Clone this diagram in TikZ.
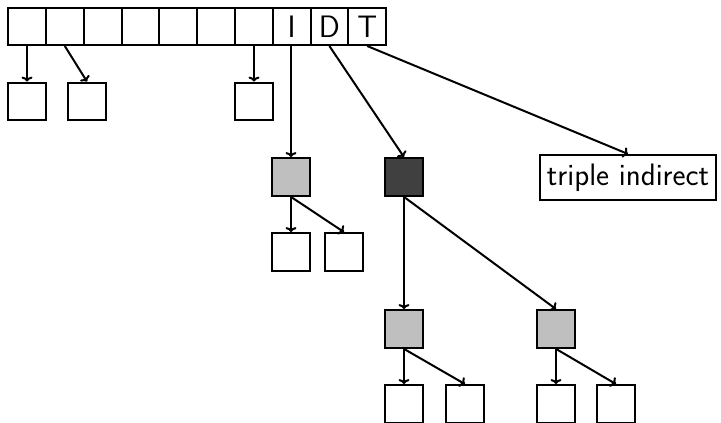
\documentclass[tikz,border=0pt]{standalone}
\usetikzlibrary{positioning,arrows.meta}

\begin{document}
\begin{tikzpicture}[x=1pt,y=1pt,font=\sffamily\fontsize{31}{36}\selectfont]
    \tikzstyle{cell}=[draw,rectangle,line width=2,minimum width=37.8,minimum height=37,inner sep=0]
    \tikzstyle{blk}=[cell,minimum height=37.8]
    \tikzstyle{ind}=[blk,fill=black!25]
    \tikzstyle{dbl}=[blk,fill=black!75]
    \tikzstyle{ptr}=[line width=2,-{To[length=5,width=11]}]
    \useasboundingbox (0,0) rectangle (721,-423);
    {
        % inode address table
        \node[cell] (a1) at (27, -26.5) {};
        \node[cell] (a2) at (64.8, -26.5) {};
        \node[cell] (a3) at (102.6, -26.5) {};
        \node[cell] (a4) at (140.4, -26.5) {};
        \node[cell] (a5) at (178.2, -26.5) {};
        \node[cell] (a6) at (216, -26.5) {};
        \node[cell] (a7) at (253.8, -26.5) {};
        \node[cell] (aI) at (291.6, -26.5) {I};
        \node[cell] (aD) at (329.4, -26.5) {D};
        \node[cell] (aT) at (367.2, -26.5) {T};

        % direct blocks
        \node[blk] (d1) at (27, -101.5) {};
        \node[blk] (d2) at (87, -101.5) {};
        \node[blk] (d7) at (254, -101.5) {};

        % single indirect
        \node[ind] (i1) at (291, -177) {};
        \node[blk] (i1a) at (291, -252) {};
        \node[blk] (i1b) at (344, -252) {};

        % double indirect
        \node[dbl] (dd) at (404, -177) {};
        \node[ind] (dd1) at (404, -329) {};
        \node[ind] (dd2) at (556, -329) {};
        \node[blk] (dd1a) at (404, -404) {};
        \node[blk] (dd1b) at (465, -404) {};
        \node[blk] (dd2a) at (556, -404) {};
        \node[blk] (dd2b) at (616, -404) {};

        % triple indirect
        \node[draw,line width=2,minimum width=176,minimum height=45,inner sep=5] (tt) at (628, -177.5) {triple indirect};

        \path[ptr]
            (a1.south) edge (d1.north)
            (a2.south) edge (d2.north)
            (a7.south -| d7.north) edge (d7.north)
            (aI.south -| i1.north) edge (i1.north)
            (aD.south) edge (dd.north)
            (aT.south) edge (tt.north)
            (i1.south) edge (i1a.north)
            (i1.south) edge (i1b.north)
            (dd.south) edge (dd1.north)
            (dd.south) edge (dd2.north)
            (dd1.south) edge (dd1a.north)
            (dd1.south) edge (dd1b.north)
            (dd2.south) edge (dd2a.north)
            (dd2.south) edge (dd2b.north);
    }
\end{tikzpicture}
\end{document}
